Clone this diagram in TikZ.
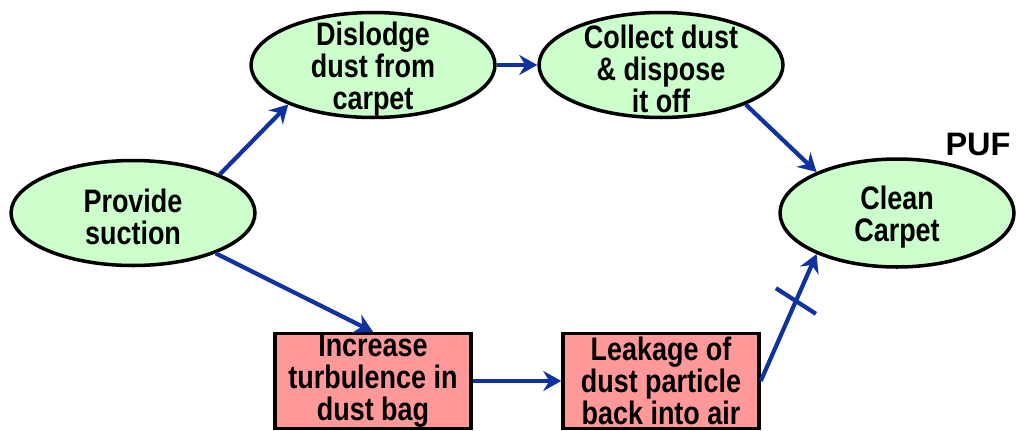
\documentclass[tikz,border=0pt]{standalone}
\usepackage{fontspec}
\newfontfamily\nodefont{Liberation Sans}[FakeStretch=0.83]
\newfontfamily\puffont{Liberation Sans}
\usetikzlibrary{arrows.meta,shapes.geometric}
\definecolor{flowblue}{RGB}{16,50,160}
\definecolor{ovalgreen}{RGB}{204,255,204}
\definecolor{boxred}{RGB}{255,153,153}

\begin{document}
\begin{tikzpicture}[x=0.02cm, y=-0.02cm,
  oval/.style={draw, ellipse, fill=ovalgreen, line width=2pt, inner sep=0pt, minimum width=4.88cm, minimum height=2.1cm},
  fault/.style={draw, rectangle, fill=boxred, line width=2pt, inner sep=0pt, minimum width=3.92cm, minimum height=1.9cm, align=center, font=\nodefont\bfseries\fontsize{18.5}{18.2}\selectfont},
  every label/.style={align=center, yshift=-0.08cm, font=\nodefont\bfseries\fontsize{18.5}{18.2}\selectfont},
  flow/.style={draw=flowblue, line width=2.4pt, -{Stealth[length=0.36cm, width=0.4cm, inset=0.12cm]}},
  blockbar/.style={draw=flowblue, line width=2.4pt, rectangle, minimum width=0pt, minimum height=0.95cm, inner sep=0pt, outer sep=0pt}]
\useasboundingbox (0,0) rectangle (1016,430);

\node[oval, label=center:{Provide\\suction}] (1) at (133,213) {};
\node[oval, label=center:{Dislodge\\dust from\\carpet}] (2) at (373,65) {};
\node[oval, label=center:{Collect dust\\\& dispose\\it off}] (3) at (661,65) {};
\node[oval, minimum width=4.68cm, minimum height=2.16cm, label=center:{Clean\\Carpet}] (4) at (897,213) {};
\node[fault] (5) at (373,381) {Increase\\turbulence in\\dust bag};
\node[fault] (6) at (661,381) {Leakage of\\dust particle\\back into air};
\node[font=\puffont\bfseries\fontsize{18.5}{18}\selectfont] (puf) at (978,144) {PUF};

\path[flow] (1.24) -- (2.205);
\path[flow] (2.east) -- (3.west);
\path[flow] (3.-25) -- (4.153);
\path[flow] (1.-26) -- (5.north);
\path[flow] (5.east) -- (6.west);
\path[flow] (6.east) -- node[pos=0.63, sloped, rotate=-9, blockbar] {} (4.207);
\end{tikzpicture}
\end{document}
